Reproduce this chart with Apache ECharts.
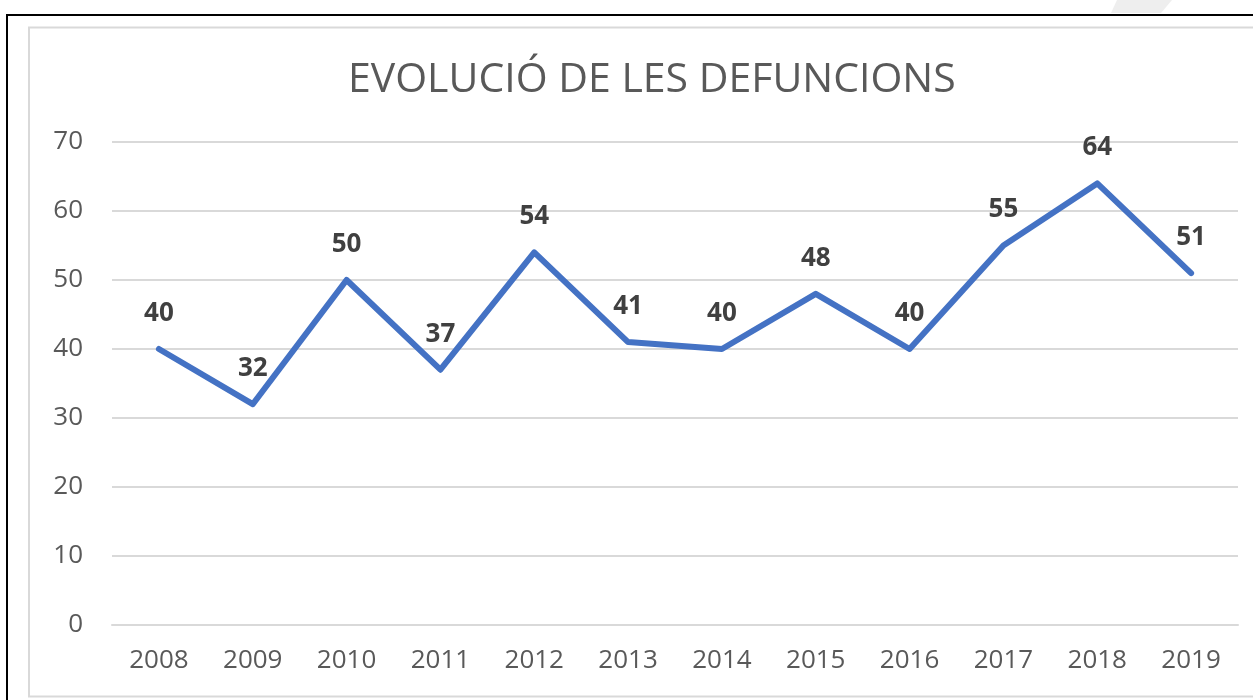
<!DOCTYPE html>
<html>
<head>
<meta charset="utf-8">
<script src="https://cdn.jsdelivr.net/npm/echarts@6/dist/echarts.min.js"></script>
<style>
  html, body { margin: 0; padding: 0; background: #fff; }
  #chart { width: 1253px; height: 700px; }
</style>
</head>
<body>
<div id="chart"></div>
<script>
// Dades
var years = ["2008", "2009", "2010", "2011", "2012", "2013", "2014", "2015", "2016", "2017", "2018", "2019"];
var deaths = [40, 32, 50, 37, 54, 41, 40, 48, 40, 55, 64, 51];
var yTicks = [0, 10, 20, 30, 40, 50, 60, 70];

var chart = echarts.init(document.getElementById("chart"));

var option = {
  backgroundColor: "#fff",
  animation: false,
  title: {
    text: "EVOLUCIÓ DE LES DEFUNCIONS",
    left: 343,
    top: 55,
    textStyle: {
      fontFamily: "Open Sans",
      fontWeight: "normal",
      fontSize: 41,
      color: "#595959",
    },
  },
  graphic: [
    {
      type: "rect",
      shape: { x: 7, y: 15, width: 1260, height: 700 },
      style: { fill: "none", stroke: "#000", lineWidth: 2 },
      silent: true,
    },
    {
      type: "rect",
      shape: { x: 29, y: 27.5, width: 1240, height: 669 },
      style: { fill: "none", stroke: "#d9d9d9", lineWidth: 2 },
      silent: true,
    },
    {
      type: "polygon",
      shape: { points: [[1117, 0], [1172, 0], [1161, 13], [1111, 13]] },
      style: { fill: "#eeeeee" },
      silent: true,
    },
  ],
  grid: { left: 112, right: 15, top: 142, bottom: 75 },
  xAxis: {
    type: "category",
    data: years,
    boundaryGap: true,
    axisLine: { lineStyle: { color: "#d9d9d9", width: 2 } },
    axisTick: { show: false },
    axisLabel: {
      color: "#595959",
      fontSize: 26,
      fontFamily: "Open Sans",
      margin: 23,
    },
  },
  yAxis: {
    type: "value",
    min: yTicks[0],
    max: yTicks[yTicks.length - 1],
    interval: 10,
    axisLine: { show: false },
    axisTick: { show: false },
    splitLine: { lineStyle: { color: "#d9d9d9", width: 2 } },
    axisLabel: {
      color: "#595959",
      fontSize: 26,
      fontFamily: "Open Sans",
      margin: 29,
    },
  },
  series: [
    {
      type: "line",
      data: deaths,
      symbol: "circle",
      symbolSize: 1,
      showSymbol: true,
      itemStyle: { color: "#4472C4" },
      lineStyle: { color: "#4472C4", width: 6, cap: "round", join: "round" },
      label: {
        show: true,
        position: "top",
        distance: 22,
        color: "#404040",
        fontSize: 26,
        fontWeight: "bold",
        fontFamily: "Open Sans",
      },
    },
  ],
};

chart.setOption(option);

window.addEventListener("resize", function () {
  chart.resize();
});
</script>
</body>
</html>
